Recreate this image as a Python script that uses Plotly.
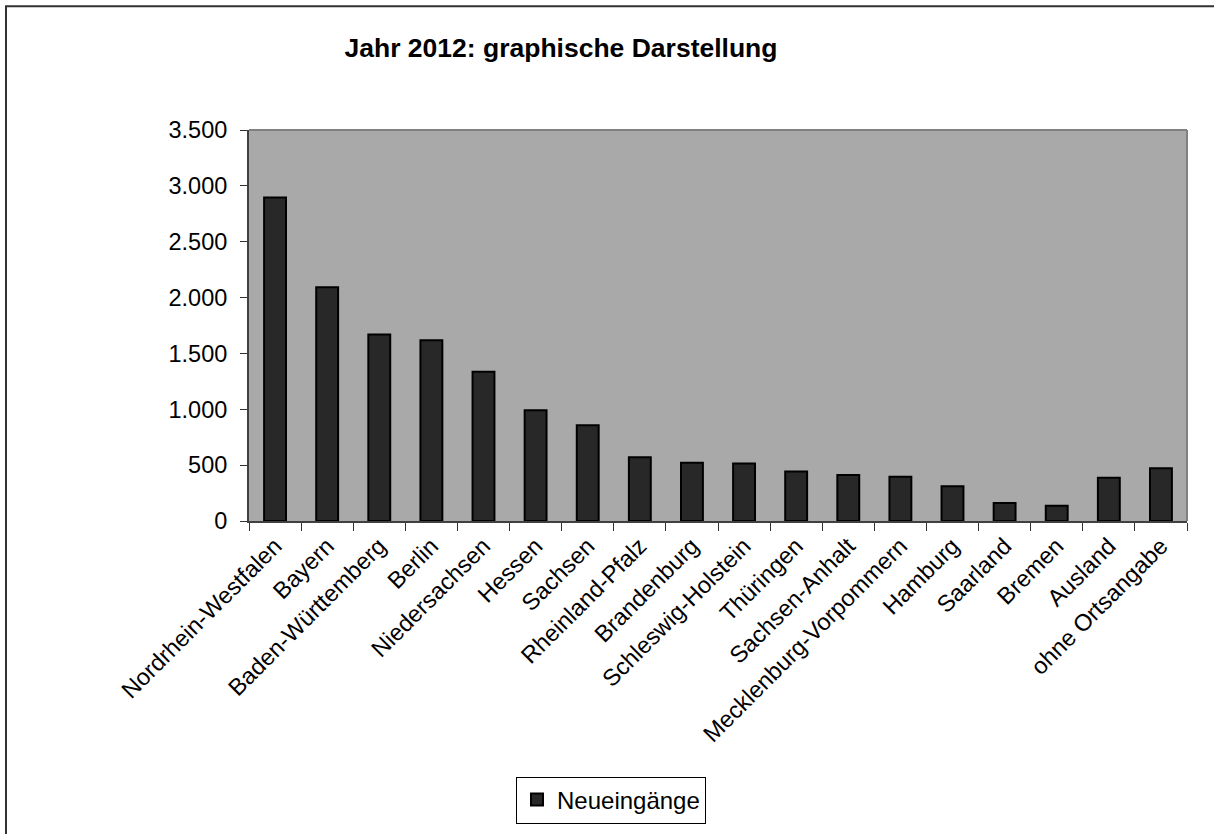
import plotly.graph_objects as go

categories = ["Nordrhein-Westfalen", "Bayern", "Baden-Württemberg", "Berlin", "Niedersachsen",
              "Hessen", "Sachsen", "Rheinland-Pfalz", "Brandenburg", "Schleswig-Holstein",
              "Thüringen", "Sachsen-Anhalt", "Mecklenburg-Vorpommern", "Hamburg", "Saarland",
              "Bremen", "Ausland", "ohne Ortsangabe"]
values = [2896, 2092, 1670, 1619, 1336, 991, 857, 571, 521, 515, 443, 411, 396, 312, 161, 137, 387, 473]
y_ticks = [0, 500, 1000, 1500, 2000, 2500, 3000, 3500]
series_name = "Neueingänge"
title = "Jahr 2012: graphische Darstellung"

W, H = 1214, 834
L, R, T, B = 249, 27, 130, 312
pw, ph = W - L - R, H - T - B

fig = go.Figure()
fig.add_trace(go.Bar(
    x=categories, y=values, name=series_name,
    marker=dict(color="#282828", line=dict(color="#000000", width=2)),
    showlegend=True,
))

def px(x):
    return (x - L) / pw

def py(y):
    return (H - B - y) / ph

fig.update_layout(
    width=W, height=H,
    margin=dict(l=L, r=R, t=T, b=B),
    paper_bgcolor="white",
    plot_bgcolor="#A9A9A9",
    separators=",.",
    font=dict(family="Liberation Sans, Arial, sans-serif", size=23.5, color="black"),
    title=dict(text="<b>" + title + "</b>", x=561 / W, xanchor="center", y=1 - 48 / H, yanchor="middle",
               font=dict(size=26.5, family="Liberation Sans, Arial, sans-serif")),
    bargap=0.58,
    xaxis=dict(
        type="category", tickangle=-45, tickson="boundaries", ticks="outside", ticklen=8,
        tickcolor="#333333", showline=True, linecolor="#404040", linewidth=2,
        showgrid=False, tickfont=dict(size=23.5), range=[-0.5, len(categories) - 0.5],
    ),
    yaxis=dict(
        range=[0, 3500], tickvals=y_ticks, tickformat=",d", ticks="outside", ticklen=7,
        tickcolor="#333333", showline=True, linecolor="#404040", linewidth=2,
        showgrid=False, zeroline=False, tickfont=dict(size=23.5), ticklabelstandoff=8,
    ),
    legend=dict(
        x=px(611), y=py(800), xanchor="center", yanchor="middle",
        bordercolor="#000000", borderwidth=1, bgcolor="white",
        font=dict(size=24), itemwidth=30,
    ),
    shapes=[
        dict(type="line", xref="paper", yref="paper", x0=0, x1=1, y0=1, y1=1,
             line=dict(color="#808080", width=2)),
        dict(type="line", xref="paper", yref="paper", x0=1, x1=1, y0=0, y1=1,
             line=dict(color="#808080", width=2)),
        dict(type="rect", xref="paper", yref="paper", x0=px(6), x1=px(1260), y0=py(880), y1=py(6),
             line=dict(color="#333333", width=2), layer="below"),
    ],
)

fig.write_html("out.html", config={"displayModeBar": False},
               post_script="document.body.style.margin='0';document.body.style.overflow='hidden';")
